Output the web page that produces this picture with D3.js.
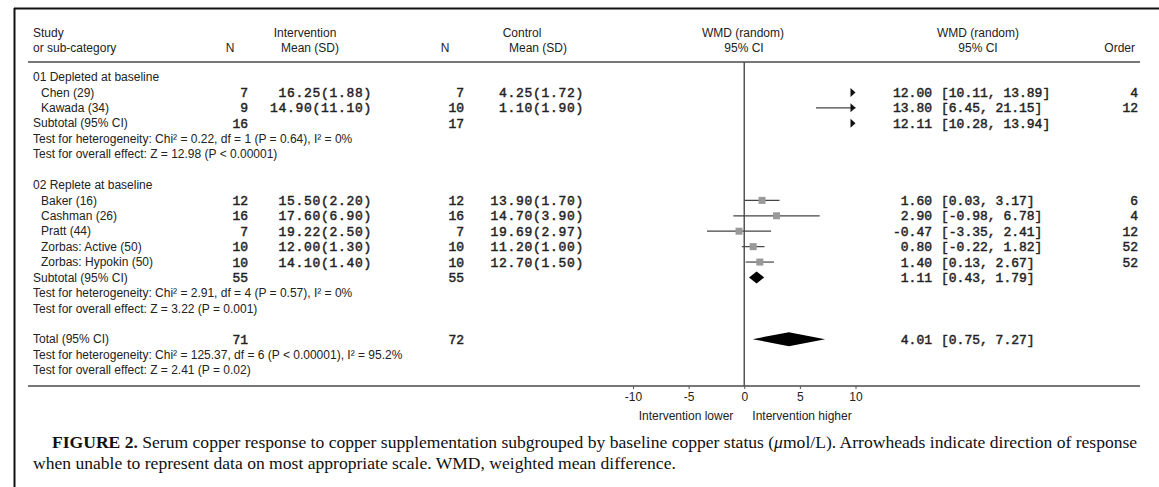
<!DOCTYPE html>
<html><head><meta charset="utf-8">
<script src="https://cdn.jsdelivr.net/npm/d3@7"></script>
<style>
html,body{margin:0;padding:0;background:#fff;}
svg{display:block;}
.sans{font-family:"Liberation Sans",Arial,sans-serif;font-size:12px;fill:#222;}
.mono{font-family:"Liberation Mono","Courier New",monospace;font-size:13px;font-weight:normal;fill:#222;stroke:#222;stroke-width:0.45px;}
.serif{font-family:"Liberation Serif","Times New Roman",serif;font-size:16px;fill:#111;}
</style></head>
<body>
<svg id="chart" width="1159" height="487"></svg>
<script>
// ---------- data ----------
const groupLabels = ["01 Depleted at baseline", "02 Replete at baseline"];
const studies = ["Chen (29)", "Kawada (34)", "Baker (16)", "Cashman (26)", "Pratt (44)", "Zorbas: Active (50)", "Zorbas: Hypokin (50)"];
const studyGroup = [0, 0, 1, 1, 1, 1, 1];
const intN = [7, 9, 12, 16, 7, 10, 10];
const intMean = [16.25, 14.90, 15.50, 17.60, 19.22, 12.00, 14.10];
const intSD = [1.88, 11.10, 2.20, 6.90, 2.50, 1.30, 1.40];
const ctlN = [7, 10, 12, 16, 7, 10, 10];
const ctlMean = [4.25, 1.10, 13.90, 14.70, 19.69, 11.20, 12.70];
const ctlSD = [1.72, 1.90, 1.70, 3.90, 2.97, 1.00, 1.50];
const wmd = [12.00, 13.80, 1.60, 2.90, -0.47, 0.80, 1.40];
const ciLo = [10.11, 6.45, 0.03, -0.98, -3.35, -0.22, 0.13];
const ciHi = [13.89, 21.15, 3.17, 6.78, 2.41, 1.82, 2.67];
const order = [4, 12, 6, 4, 12, 52, 52];

const subIntN = [16, 55];
const subCtlN = [17, 55];
const subWmd = [12.11, 1.11];
const subLo = [10.28, 0.43];
const subHi = [13.94, 1.79];
const subHet = ["Chi\u00B2 = 0.22, df = 1 (P = 0.64), I\u00B2 = 0%", "Chi\u00B2 = 2.91, df = 4 (P = 0.57), I\u00B2 = 0%"];
const subZ = ["Z = 12.98 (P < 0.00001)", "Z = 3.22 (P = 0.001)"];

const totIntN = 71, totCtlN = 72;
const totWmd = 4.01, totLo = 0.75, totHi = 7.27;
const totHet = "Chi\u00B2 = 125.37, df = 6 (P < 0.00001), I\u00B2 = 95.2%";
const totZ = "Z = 2.41 (P = 0.02)";

const axisTicks = [-10, -5, 0, 5, 10];
const axisDomain = [-10, 10];
const favourLabels = ["Intervention lower", "Intervention higher"];

// ---------- layout ----------
const svg = d3.select("#chart");
const x = d3.scaleLinear().domain(axisDomain).range([633, 855.5]);
const y = d3.scaleLinear().domain([0, 19]).range([77, 370]);

const col = {
  study: 33, studyIndent: 41, intN: 248, intMean: 372, ctlN: 464, ctlMean: 584,
  est: 932, ci: 941, order: 1138
};
const lineL = 28, lineR = 1140, headLineY = 62, axisY = 386;

// frame
svg.append("line").attr("x1", 14).attr("x2", 1159).attr("y1", 8.5).attr("y2", 8.5)
  .attr("stroke", "#111").attr("stroke-width", 2);
svg.append("line").attr("x1", 14.5).attr("x2", 14.5).attr("y1", 8).attr("y2", 487)
  .attr("stroke", "#111").attr("stroke-width", 2);

// header
const hdr = svg.append("g").attr("class", "sans");
function ht(t, xx, yy, anchor) {
  hdr.append("text").attr("x", xx).attr("y", yy).attr("dy", "0.35em")
    .attr("text-anchor", anchor || "start").text(t);
}
ht("Study", col.study, 33);
ht("or sub-category", col.study, 48);
ht("Intervention", 305, 33, "middle");
ht("N", 230, 48, "middle");
ht("Mean (SD)", 310, 48, "middle");
ht("Control", 522, 33, "middle");
ht("N", 445, 48, "middle");
ht("Mean (SD)", 538, 48, "middle");
ht("WMD (random)", 743, 33, "middle");
ht("95% CI", 744, 48, "middle");
ht("WMD (random)", 978, 33, "middle");
ht("95% CI", 978, 48, "middle");
ht("Order", 1135, 48, "end");

// header and bottom rules
[headLineY, axisY].forEach(yy => {
  svg.append("line").attr("x1", lineL).attr("x2", lineR).attr("y1", yy).attr("y2", yy)
    .attr("stroke", "#777").attr("stroke-width", 2);
});

// zero line
svg.append("line").attr("x1", x(0)).attr("x2", x(0)).attr("y1", headLineY).attr("y2", axisY)
  .attr("stroke", "#555").attr("stroke-width", 1.5);

// rows
const rowOf = { group: [0, 7], study: [1, 2, 8, 9, 10, 11, 12], sub: [3, 13], het: [4, 14], z: [5, 15] };
const body = svg.append("g");
function sans(t, xx, row, anchor) {
  body.append("text").attr("class", "sans").attr("x", xx).attr("y", y(row)).attr("dy", "0.35em")
    .attr("text-anchor", anchor || "start").text(t);
}
function mono(t, xx, row, anchor, ls) {
  body.append("text").attr("class", "mono").attr("x", xx).attr("y", y(row)).attr("dy", "0.35em")
    .attr("text-anchor", anchor || "start").style("letter-spacing", ls || null).text(t);
}
const f2 = d3.format(".2f");
const fmt = v => f2(v).replace("\u2212", "-");
const ciText = (lo, hi) => "[" + fmt(lo) + ", " + fmt(hi) + "]";

groupLabels.forEach((g, i) => sans(g, col.study, rowOf.group[i]));

studies.forEach((s, i) => {
  const r = rowOf.study[i];
  sans(s, col.studyIndent, r);
  mono(String(intN[i]), col.intN, r, "end");
  mono(fmt(intMean[i]) + "(" + fmt(intSD[i]) + ")", col.intMean, r, "end", "0.7px");
  mono(String(ctlN[i]), col.ctlN, r, "end");
  mono(fmt(ctlMean[i]) + "(" + fmt(ctlSD[i]) + ")", col.ctlMean, r, "end", "0.7px");
  mono(fmt(wmd[i]), col.est, r, "end");
  mono(ciText(ciLo[i], ciHi[i]), col.ci, r);
  mono(String(order[i]), col.order, r, "end");
});

[0, 1].forEach(i => {
  sans("Subtotal (95% CI)", col.study, rowOf.sub[i]);
  mono(String(subIntN[i]), col.intN, rowOf.sub[i], "end");
  mono(String(subCtlN[i]), col.ctlN, rowOf.sub[i], "end");
  mono(fmt(subWmd[i]), col.est, rowOf.sub[i], "end");
  mono(ciText(subLo[i], subHi[i]), col.ci, rowOf.sub[i]);
  sans("Test for heterogeneity: " + subHet[i], col.study, rowOf.het[i]);
  sans("Test for overall effect: " + subZ[i], col.study, rowOf.z[i]);
});

sans("Total (95% CI)", col.study, 17);
mono(String(totIntN), col.intN, 17, "end");
mono(String(totCtlN), col.ctlN, 17, "end");
mono(fmt(totWmd), col.est, 17, "end");
mono(ciText(totLo, totHi), col.ci, 17);
sans("Test for heterogeneity: " + totHet, col.study, 18);
sans("Test for overall effect: " + totZ, col.study, 19);

// ---------- forest marks ----------
const plot = svg.append("g");
const [dMin, dMax] = axisDomain;
function arrowRight(yy) {
  const xe = x(dMax);
  plot.append("path").attr("d", `M${xe - 5},${yy - 4.5}L${xe},${yy}L${xe - 5},${yy + 4.5}Z`)
    .attr("fill", "#111");
}
function arrowLeft(yy) {
  const xe = x(dMin);
  plot.append("path").attr("d", `M${xe + 5},${yy - 4.5}L${xe},${yy}L${xe + 5},${yy + 4.5}Z`)
    .attr("fill", "#111");
}
studies.forEach((s, i) => {
  const yy = y(rowOf.study[i]);
  const lo = Math.max(ciLo[i], dMin), hi = Math.min(ciHi[i], dMax);
  if (lo < hi) {
    plot.append("line").attr("x1", x(lo)).attr("x2", x(hi)).attr("y1", yy).attr("y2", yy)
      .attr("stroke", "#444").attr("stroke-width", 1.2);
  }
  if (ciHi[i] > dMax) arrowRight(yy);
  if (ciLo[i] < dMin) arrowLeft(yy);
  if (wmd[i] >= dMin && wmd[i] <= dMax) {
    plot.append("rect").attr("x", x(wmd[i]) - 3.5).attr("y", yy - 3.5)
      .attr("width", 7).attr("height", 7).attr("fill", "#999");
  }
});
function diamond(est, lo, hi, yy, h) {
  if (hi > dMax && lo > dMax) { arrowRight(yy); return; }
  plot.append("path")
    .attr("d", `M${x(lo)},${yy}L${x(est)},${yy - h}L${x(hi)},${yy}L${x(est)},${yy + h}Z`)
    .attr("fill", "#000");
}
[0, 1].forEach(i => diamond(subWmd[i], subLo[i], subHi[i], y(rowOf.sub[i]), 6));
diamond(totWmd, totLo, totHi, y(17), 7);

// axis
const ax = svg.append("g").attr("transform", `translate(0,${axisY})`)
  .call(d3.axisBottom(x).tickValues(axisTicks).tickSize(3).tickPadding(3).tickFormat(d => String(d)));
ax.select(".domain").remove();
ax.selectAll("line").attr("stroke", "#555");
ax.selectAll("text").attr("font-family", "Liberation Sans, Arial, sans-serif").attr("font-size", 12).attr("fill", "#222");

svg.append("text").attr("class", "sans").attr("x", 686).attr("y", 416).attr("dy", "0.35em")
  .attr("text-anchor", "middle").text(favourLabels[0]);
svg.append("text").attr("class", "sans").attr("x", 802).attr("y", 416).attr("dy", "0.35em")
  .attr("text-anchor", "middle").text(favourLabels[1]);

// ---------- caption ----------
const c1 = svg.append("text").attr("class", "serif").attr("x", 0).attr("y", 0).attr("dy", "0.35em");
c1.append("tspan").attr("font-weight", "bold").text("FIGURE 2.");
c1.append("tspan").text(" Serum copper response to copper supplementation subgrouped by baseline copper status (");
c1.append("tspan").attr("font-style", "italic").text("\u03BC");
c1.append("tspan").text("mol/L). Arrowheads indicate direction of response");
const c2 = svg.append("text").attr("class", "serif").attr("x", 0).attr("y", 0).attr("dy", "0.35em")
  .text("when unable to represent data on most appropriate scale. WMD, weighted mean difference.");
// scale the caption horizontally so line 1 spans the reference width
const sx = 1086 / c1.node().getComputedTextLength();
c1.attr("transform", `translate(52,442) scale(${sx},1)`);
c2.attr("transform", `translate(33,463) scale(${sx},1)`);
</script>
</body></html>
